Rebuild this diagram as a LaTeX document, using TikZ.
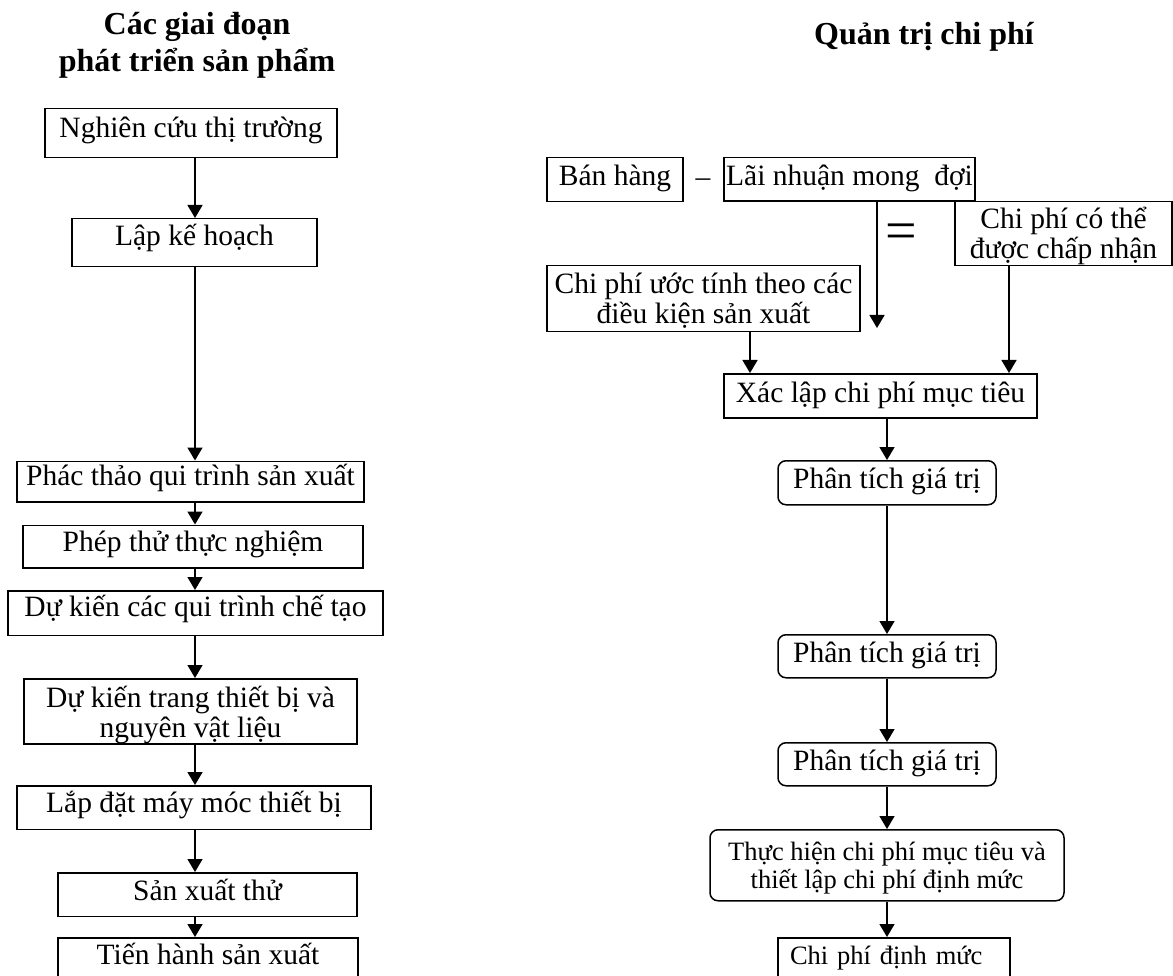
\documentclass[tikz,border=0pt]{standalone}
\usepackage{fontspec}
\setmainfont{Liberation Serif}
\usetikzlibrary{arrows.meta}
\newcommand\bodyfont{\fontsize{29.5}{30}\selectfont}
\newcommand\smallbodyfont{\fontsize{26.5}{28}\selectfont}
\newcommand\headfont{\fontsize{32}{37}\selectfont\bfseries}
\begin{document}
\begin{tikzpicture}[x=1pt,y=-1pt,
  box/.style={draw, line width=1.5pt, inner sep=0pt, anchor=north, align=center,
              font=\bodyfont, text height=27pt},
  rbox/.style={box, rounded corners=8pt},
  arr/.style={line width=1.5pt, -{Triangle[length=13pt,width=15pt]}},
  heading/.style={font=\headfont, align=center, anchor=base, inner sep=0pt}]
\fill[white] (0,0) rectangle (1173,976);
\useasboundingbox (0,0) rectangle (1173,976);

% headings (base anchor sits on the last line)
\node[heading] (tl) at (197,72) {Các giai đoạn\\phát triển sản phẩm};
\node[heading] (tr) at (924,45) {Quản trị chi phí};

% left column: product development stages
\node[box, minimum width=292pt, text height=29pt, text depth=20pt] (b1) at (191,108) {Nghiên cứu thị trường};
\node[box, minimum width=245pt, text depth=21pt] (b2) at (194.5,218) {Lập kế hoạch};
\node[box, minimum width=347pt, text height=24pt, text depth=16.5pt] (b3) at (190.5,460.5) {Phác thảo qui trình sản xuất};
\node[box, minimum width=340pt, text height=26.5pt, text depth=16pt] (b4) at (193,524.5) {Phép thử thực nghiệm};
\node[box, minimum width=375pt, text height=26pt, text depth=18.5pt] (b5) at (195.5,590) {Dự kiến các qui trình chế tạo};
\node[box, minimum width=333pt, text height=58.7pt, text depth=6.3pt] (b6) at (190.5,678) {Dự kiến trang thiết bị và\\nguyên vật liệu};
\node[box, minimum width=354pt, text depth=16.5pt] (b7) at (194,785) {Lắp đặt máy móc thiết bị};
\node[box, minimum width=299pt, text height=28pt, text depth=15.5pt] (b8) at (207.5,872) {Sản xuất thử};
\node[box, minimum width=300pt, text depth=33pt] (b9) at (208,937) {Tiến hành sản xuất};

% right column: cost management
\node[box, minimum width=136pt, text height=28pt, text depth=16pt] (ban) at (615,157) {Bán hàng};
\node[font=\bodyfont, inner sep=0pt] (minus) at (703,183) {–};
\node[box, minimum width=251pt, text height=28pt, text depth=15.5pt] (lai) at (849.5,157) {Lãi nhuận mong\ \ đợi};
\node[box, minimum width=217pt, text height=57pt, text depth=7pt] (cpct) at (1063.5,201) {Chi phí có thể\\được chấp nhận};
\node[font=\fontsize{56}{56}\selectfont, inner sep=0pt] (eq) at (901,237) {=};
\node[box, minimum width=313pt, text height=58pt, text depth=8pt] (cpu) at (703.5,265) {Chi phí ước tính theo các\\điều kiện sản xuất};
\node[box, minimum width=313pt, text height=28.5pt, text depth=15.5pt] (xl) at (880.5,373) {Xác lập chi phí mục tiêu};
\node[rbox, minimum width=218pt, text height=28pt, text depth=16pt] (pt1) at (887,460) {Phân tích giá trị};
\node[rbox, minimum width=218pt, text height=28pt, text depth=15pt] (pt2) at (887,634) {Phân tích giá trị};
\node[rbox, minimum width=218pt, text height=28pt, text depth=15pt] (pt3) at (887,742) {Phân tích giá trị};
\node[rbox, font=\smallbodyfont, minimum width=354pt, text height=59pt, text depth=12pt] (th) at (887,829) {Thực hiện chi phí mục tiêu và\\thiết lập chi phí định mức};
\node[box, font=\smallbodyfont, align=left, inner xsep=12pt, text width=208pt, text depth=33pt] (cpdm) at (894,937) {Chi phí định mức};

% connectors
\coordinate (lx) at (195,0);
\foreach \a/\b in {b1/b2,b2/b3,b3/b4,b4/b5,b5/b6,b6/b7,b7/b8,b8/b9}
  \draw[arr] (\a.south -| lx) -- (\b.north -| lx);

\coordinate (laiend) at (877,328);
\draw[arr] (lai.south -| laiend) -- (laiend);
\coordinate (cpux) at (750,0);
\draw[arr] (cpu.south -| cpux) -- (xl.north -| cpux);
\coordinate (cpctx) at (1009,0);
\draw[arr] (cpct.south -| cpctx) -- (xl.north -| cpctx);

\coordinate (rx) at (887,0);
\foreach \a/\b in {xl/pt1,pt1/pt2,pt2/pt3,pt3/th,th/cpdm}
  \draw[arr] (\a.south -| rx) -- (\b.north -| rx);
\end{tikzpicture}
\end{document}
